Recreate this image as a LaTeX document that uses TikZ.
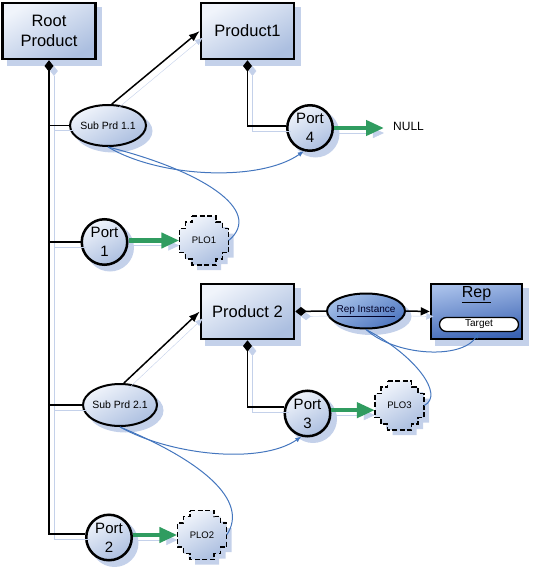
\documentclass[tikz,border=0pt]{standalone}
\usepackage{fontspec}
\setmainfont{Liberation Sans}
\usetikzlibrary{arrows.meta,shapes.geometric,calc,backgrounds}
\definecolor{shadowc}{RGB}{196,209,234}
\definecolor{fillA}{RGB}{240,244,251}
\definecolor{fillB}{RGB}{172,191,224}
\definecolor{darkA}{RGB}{168,192,234}
\definecolor{darkB}{RGB}{58,98,178}
\definecolor{instA}{RGB}{165,192,232}
\definecolor{instB}{RGB}{78,118,192}
\definecolor{curveblue}{RGB}{68,118,190}
\definecolor{arrowgreen}{RGB}{48,156,96}
\newcommand\plocross[1]{%
  \begin{scope}[shift={(#1)}]
    \fill[shadowc,xshift=5pt,yshift=-5pt] (-12,-24.5) -- (12,-24.5) -- (12,-18.5) -- (18.5,-18.5) -- (18.5,-12) -- (24.5,-12) -- (24.5,12) -- (18.5,12) -- (18.5,18.5) -- (12,18.5) -- (12,24.5) -- (-12,24.5) -- (-12,18.5) -- (-18.5,18.5) -- (-18.5,12) -- (-24.5,12) -- (-24.5,-12) -- (-18.5,-12) -- (-18.5,-18.5) -- (-12,-18.5) -- cycle;
    \draw[black,line width=1.3pt,dash pattern=on 5pt off 2.5pt,lightfill] (-12,-24.5) -- (12,-24.5) -- (12,-18.5) -- (18.5,-18.5) -- (18.5,-12) -- (24.5,-12) -- (24.5,12) -- (18.5,12) -- (18.5,18.5) -- (12,18.5) -- (12,24.5) -- (-12,24.5) -- (-12,18.5) -- (-18.5,18.5) -- (-18.5,12) -- (-24.5,12) -- (-24.5,-12) -- (-18.5,-12) -- (-18.5,-18.5) -- (-12,-18.5) -- cycle;
  \end{scope}}
\newcommand\boxshadow[1]{\fill[shadowc] ([shift={(5.5,5.5)}]#1.north west) rectangle ([shift={(5.5,5.5)}]#1.south east);}
\newcommand\ovalshadow[3]{\fill[shadowc] ([shift={(5.5,5.5)}]#1.center) ellipse [x radius=#2, y radius=#3];}
\begin{document}
\begin{tikzpicture}[x=1pt,y=-1pt,
  lightfill/.style={top color=fillA,bottom color=fillB,shading angle=30},
  darkfill/.style={top color=darkA,bottom color=darkB,shading angle=10},
  instfill/.style={top color=instA,bottom color=instB,shading angle=30},
  prodbox/.style={rectangle,draw=black,line width=2.5pt,lightfill,minimum width=93pt,minimum height=56pt,inner sep=0pt,align=center,font=\fontsize{16.5}{20.5}\selectfont},
  subprd/.style={ellipse,draw=black,line width=2pt,lightfill,inner sep=0pt,font=\fontsize{10.5}{12}\selectfont},
  portc/.style={circle,draw=black,line width=2.5pt,lightfill,minimum size=45.5pt,inner sep=0pt,align=center,font=\fontsize{15}{19}\selectfont},
  plotext/.style={rectangle,minimum size=49pt,inner sep=0pt,font=\fontsize{9.5}{11}\selectfont},
  conn/.style={draw=black,line width=1.5pt},
  lshadow/.style={preaction={draw=shadowc,transform canvas={xshift=5pt,yshift=-5pt}}},
  blk/.style={-{Latex[length=11pt,width=8pt]}},
  bluecurve/.style={draw=curveblue,line width=1pt},
  bluetip/.style={-{Latex[length=6pt,width=5pt]}},
  garrow/.style={draw=arrowgreen,line width=4.3pt,-{Triangle[length=18pt,width=15pt]}},
]
\useasboundingbox (0,0) rectangle (533,567);

% --- nodes ---
\node[prodbox] (root) at (49,31) {Root\\Product};
\node[prodbox] (p1) at (247.5,31) {Product1};
\node[subprd,minimum width=76pt,minimum height=41pt] (sp11) at (108,125.5) {\makebox[0pt]{Sub Prd 1.1}};
\node[portc] (port4) at (310,128) {Port\\4};
\node[inner xsep=9pt,inner ysep=0pt,anchor=west,font=\fontsize{12}{14}\selectfont] (null) at (384,126) {NULL};
\node[portc] (port1) at (104.5,242) {Port\\1};
\coordinate (plo1c) at (204,240.5);
\plocross{plo1c}
\node[plotext] (plo1) at (plo1c) {PLO1};
\node[prodbox,minimum height=55pt] (p2) at (247.5,311.5) {Product 2};
\node[subprd,instfill,minimum width=78pt,minimum height=35pt,font=\fontsize{10}{12}\selectfont,text=black!85!blue] (repinst) at (366,311) {\makebox[0pt]{\underline{Rep Instance}}};
\node[prodbox,darkfill,minimum width=91pt,minimum height=55pt] (rep) at (476.5,311.5) {};
\node[inner sep=0pt,font=\fontsize{16}{18}\selectfont] (reptitle) at (476.5,295) {\underline{Rep}};
\node[draw=black,line width=1.3pt,fill=white,rounded corners=7pt,minimum width=79pt,minimum height=14pt,inner sep=0pt,font=\fontsize{10}{12}\selectfont] (target) at (479,324.5) {Target};
\node[subprd,minimum width=74pt,minimum height=42pt] (sp21) at (120,405) {\makebox[0pt]{Sub Prd 2.1}};
\node[portc] (port3) at (307.5,413.5) {Port\\3};
\coordinate (plo3c) at (399.5,405.5);
\plocross{plo3c}
\node[plotext] (plo3) at (plo3c) {PLO3};
\node[portc] (port2) at (109,537.5) {Port\\2};
\coordinate (plo2c) at (202,535);
\plocross{plo2c}
\node[plotext] (plo2) at (plo2c) {PLO2};

% --- node shadows (behind everything) ---
\begin{scope}[on background layer]
  \boxshadow{root}
  \boxshadow{p1}
  \boxshadow{p2}
  \boxshadow{rep}
  \ovalshadow{sp11}{39}{21.5}
  \ovalshadow{sp21}{38}{22}
  \ovalshadow{repinst}{40}{18.5}
  \ovalshadow{port1}{24}{24}
  \ovalshadow{port2}{24}{24}
  \ovalshadow{port3}{24}{24}
  \ovalshadow{port4}{24}{24}
\end{scope}

% --- black connectors ---
\draw[conn,lshadow,{Diamond[length=11.5pt,width=9pt]}-] (root.south) -- (root.south |- port2.172) -- (port2.172);
\draw[conn,lshadow] (root.south |- sp11.west) -- (sp11.west);
\draw[conn,lshadow] (root.south |- port1.west) -- (port1.west);
\draw[conn,lshadow] (root.south |- sp21.west) -- (sp21.west);
\draw[conn,lshadow,blk] (sp11.80) -- (p1.west);
\draw[conn,lshadow,blk] (sp21.80) -- (p2.west);
\draw[conn,lshadow,{Diamond[length=11.5pt,width=9pt]}-] (p1.south) |- (port4.175);
\draw[conn,lshadow,{Diamond[length=11.5pt,width=9pt]}-] (p2.south) |- (port3.164);
\draw[conn,lshadow,{Diamond[length=11.5pt,width=9pt]}-] (p2.east) -- (repinst.west);
\draw[conn,lshadow,-{Triangle[length=9pt,width=8pt]}] (repinst.east) -- (rep.west);

% --- green arrows ---
\draw[garrow,lshadow] (port4.east) -- (port4.east -| null.west);
\draw[garrow,lshadow] (port1.east |- plo1.west) -- (plo1.west);
\draw[garrow,lshadow] (port3.8) -- (port3.8 -| plo3.west);
\draw[garrow,lshadow] (port2.6) -- (port2.6 -| plo2.west);

% --- blue curves ---
\draw[bluecurve,bluetip] (sp11.south) .. controls (160,178) and (260,182) .. (port4.255);
\draw[bluecurve] (sp11.south) .. controls (200,170) and (265,210) .. (plo1.east);
\draw[bluecurve,bluetip] (sp21.south) .. controls (170,455) and (260,465) .. (port3.255);
\draw[bluecurve] (sp21.south) .. controls (200,460) and (250,500) .. (plo2.east);
\draw[bluecurve,bluetip] (repinst.south) .. controls (395,356) and (462,360) .. (target.south);
\draw[bluecurve] (repinst.south) .. controls (415,355) and (445,395) .. (plo3.east);
\end{tikzpicture}
\end{document}
